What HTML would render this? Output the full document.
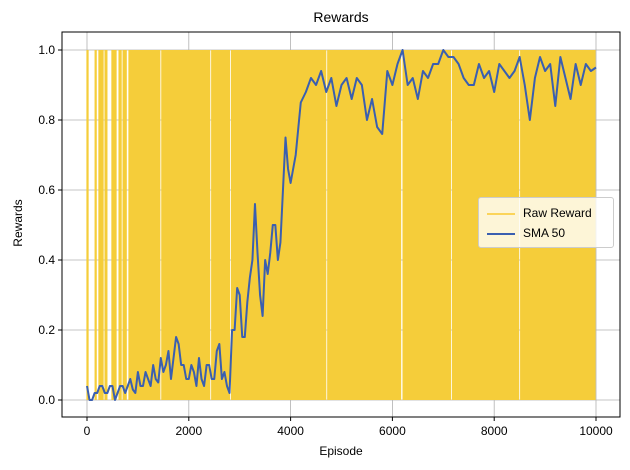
<!DOCTYPE html>
<html><head><meta charset="utf-8"><style>
html,body{margin:0;padding:0;background:#fff;}
svg{display:block;font-family:"Liberation Sans","DejaVu Sans",sans-serif;}
</style></head><body>
<svg id="chart" width="630" height="470" viewBox="0 0 630 470"></svg>
<script>
const smaEpisodes = [0,50,100,150,200,250,300,350,400,450,500,550,600,650,700,750,800,850,900,950,1000,1050,1100,1150,1200,1250,1300,1350,1400,1450,1500,1550,1600,1650,1700,1750,1800,1850,1900,1950,2000,2050,2100,2150,2200,2250,2300,2350,2400,2450,2500,2550,2600,2650,2700,2750,2800,2850,2900,2950,3000,3050,3100,3150,3200,3250,3300,3350,3400,3450,3500,3550,3600,3650,3700,3750,3800,3850,3900,3950,4000,4100,4200,4300,4400,4500,4600,4700,4800,4900,5000,5100,5200,5300,5400,5500,5600,5700,5800,5900,6000,6100,6200,6300,6400,6500,6600,6700,6800,6900,7000,7100,7200,7300,7400,7500,7600,7700,7800,7900,8000,8100,8200,8300,8400,8500,8600,8700,8800,8900,9000,9100,9200,9300,9400,9500,9600,9700,9800,9900,10000];
const smaValues = [.04,0,0,.02,.02,.04,.04,.02,.02,.04,.04,0,.02,.04,.04,.02,.04,.06,.03,.02,.08,.04,.04,.08,.06,.04,.1,.06,.05,.12,.08,.1,.14,.06,.12,.18,.16,.1,.1,.06,.06,.1,.08,.04,.12,.06,.04,.1,.1,.06,.06,.14,.16,.06,.08,.04,.02,.2,.2,.32,.3,.18,.18,.28,.35,.4,.56,.42,.3,.24,.4,.36,.42,.5,.5,.4,.45,.6,.75,.66,.62,.7,.85,.88,.92,.9,.94,.88,.92,.84,.9,.92,.86,.92,.9,.8,.86,.78,.76,.94,.9,.96,1.0,.9,.92,.86,.94,.92,.96,.96,1.0,.98,.98,.96,.92,.9,.9,.96,.92,.94,.88,.96,.94,.92,.94,.98,.9,.8,.92,.98,.94,.96,.84,.98,.92,.86,.96,.9,.96,.94,.95];
const rewardIntervalStarts = [0,160,235,355,490,630,710,825,1470,2450,2840,4730,6210,7180,8520];
const rewardIntervalEnds = [40,200,335,410,590,690,790,1450,2430,2820,4710,6180,7160,8500,10000];
const xTicks = [0,2000,4000,6000,8000,10000];
const yTicks = [0,0.2,0.4,0.6,0.8,1.0];
const yTickLabels = ["0.0","0.2","0.4","0.6","0.8","1.0"];

const NS="http://www.w3.org/2000/svg";
const svg=document.getElementById('chart');
const L=62,R=620,T=32,B=417;
const xs=v=>87+v*(596-87)/10000;
const ys=v=>400-v*350;
function mk(tag,attrs,parent){const e=document.createElementNS(NS,tag);for(const k in attrs)e.setAttribute(k,attrs[k]);(parent||svg).appendChild(e);return e;}

xTicks.forEach(t=>{const g=mk('line',{x1:xs(t),x2:xs(t),y1:T,y2:B,stroke:'#b0b0b0','stroke-width':0.8});

});
yTicks.forEach(t=>{const g=mk('line',{x1:L,x2:R,y1:ys(t),y2:ys(t),stroke:'#b0b0b0','stroke-width':0.8});

});

rewardIntervalStarts.forEach((s,i)=>{const e=rewardIntervalEnds[i];
const r=mk('rect',{x:xs(s)-0.6,y:ys(1),width:Math.max(1.2,xs(e)-xs(s)+0.2),height:ys(0)-ys(1),fill:'#f5cd3a'});

});

const p=mk('polyline',{points:smaEpisodes.map((e,i)=>xs(e)+','+ys(smaValues[i])).join(' '),fill:'none',stroke:'#3a5fb0','stroke-width':2,'stroke-linejoin':'round'});



const f=mk('rect',{x:L,y:T,width:R-L,height:B-T,fill:'none',stroke:'#000','stroke-width':1});



xTicks.forEach(t=>{mk('line',{x1:xs(t),x2:xs(t),y1:B,y2:B+4,stroke:'#000'});
const tx=mk('text',{x:xs(t),y:B+18,'text-anchor':'middle','font-size':12});tx.textContent=t;

});
yTicks.forEach((t,i)=>{mk('line',{x1:L-4,x2:L,y1:ys(t),y2:ys(t),stroke:'#000'});
const tx=mk('text',{x:L-7,y:ys(t)+4,'text-anchor':'end','font-size':12});tx.textContent=yTickLabels[i];

});
</script>
<div style="position:absolute;left:0;top:0;width:630px;height:470px;pointer-events:none;font-family:'Liberation Sans',sans-serif;">
  <div style="position:absolute;left:62px;width:558px;top:9px;text-align:center;font-size:14px;">Rewards</div>
  <div style="position:absolute;left:62px;width:558px;top:444px;text-align:center;font-size:12px;">Episode</div>
  <div style="position:absolute;left:-22px;top:216px;width:80px;text-align:center;font-size:12px;transform:rotate(-90deg);">Rewards</div>
  <div style="position:absolute;left:478px;top:197px;width:134px;height:49px;background:rgba(255,255,255,0.8);border:1px solid #ccc;border-radius:3px;font-size:12px;">
    <div style="position:absolute;left:8px;top:8px;white-space:nowrap;"><span style="display:inline-block;width:28px;height:2px;background:#fbd45a;vertical-align:middle;margin-right:8px;"></span>Raw Reward</div>
    <div style="position:absolute;left:8px;top:28px;white-space:nowrap;"><span style="display:inline-block;width:28px;height:2px;background:#3a5fb0;vertical-align:middle;margin-right:8px;"></span>SMA 50</div>
  </div>
</div>
</body></html>
